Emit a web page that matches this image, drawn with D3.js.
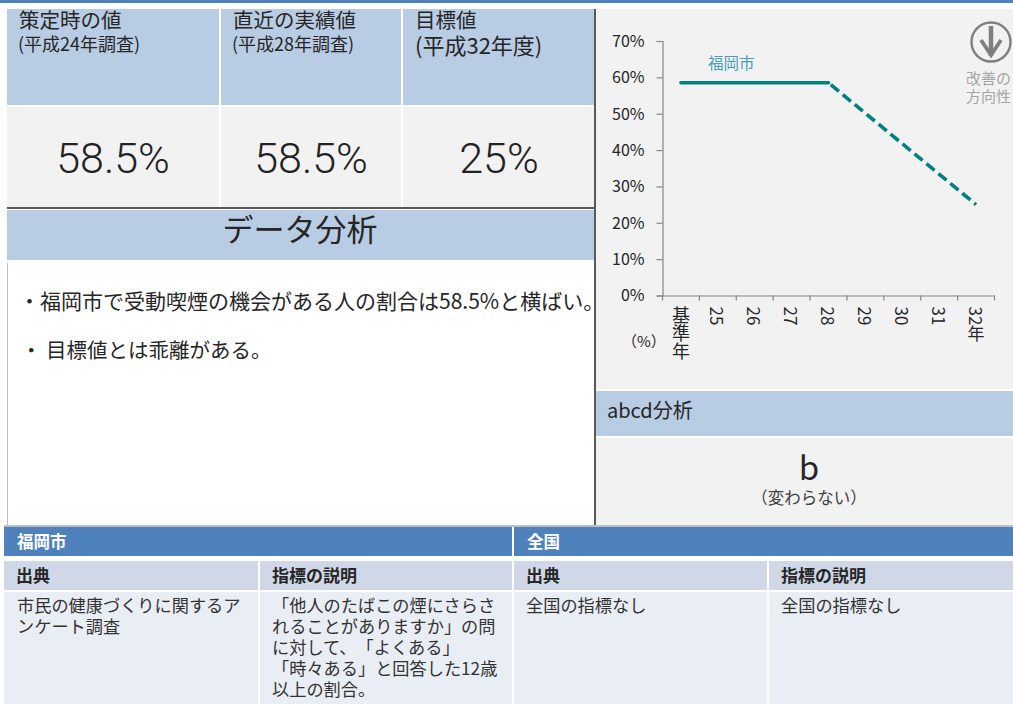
<!DOCTYPE html>
<html lang="ja">
<head>
<meta charset="utf-8">
<script src="https://cdn.jsdelivr.net/npm/d3@7"></script>
<style>
  html, body { margin: 0; padding: 0; background: #fff; overflow: hidden; }
  text { font-family: "Noto Sans CJK JP", "Noto Sans", sans-serif; fill: #262626; text-spacing-trim: space-all; }
</style>
</head>
<body>
<script>
// chart data
const years = ["基準年", "25", "26", "27", "28", "29", "30", "31", "32年"];
const actualYears = ["基準年", "28"];
const actualValues = [58.5, 58.5];
const targetYears = ["28", "32年"];
const targetValues = [58.5, 25];
const yTicks = [0, 10, 20, 30, 40, 50, 60, 70];

// table text
const headTitles = ["策定時の値", "直近の実績値", "目標値"];
const headSubs = ["(平成24年調査)", "(平成28年調査)", "(平成32年度)"];
const headValues = ["58.5%", "58.5%", "25%"];
const analysisLines = [
  "・福岡市で受動喫煙の機会がある人の割合は58.5%と横ばい。",
  "・ 目標値とは乖離がある。",
];
const regions = ["福岡市", "全国"];
const columnNames = ["出典", "指標の説明", "出典", "指標の説明"];
const columnBodies = [
  ["市民の健康づくりに関するア", "ンケート調査"],
  ["「他人のたばこの煙にさらさ", "れることがありますか」の問", "に対して、「よくある」", "「時々ある」と回答した12歳", "以上の割合。"],
  ["全国の指標なし"],
  ["全国の指標なし"],
];

const width = 1013;
const height = 704;
const blue = "#4f81bd";
const paleBlue = "#b8cce4";
const grey = "#f2f2f2";
const teal = "#008080";

const svg = d3.select("body").append("svg")
  .attr("width", width)
  .attr("height", height)
  .style("display", "block");

const rect = (x, y, w, h, fill) =>
  svg.append("rect").attr("x", x).attr("y", y).attr("width", w).attr("height", h).attr("fill", fill);

const label = (x, y, str, size, opts = {}) =>
  svg.append("text")
    .attr("x", x)
    .attr("y", y)
    .attr("font-size", size)
    .attr("text-anchor", opts.anchor || "start")
    .attr("font-weight", opts.weight || null)
    .style("fill", opts.fill || null)
    .style("font-family", opts.family || null)
    .text(str);

// top strip
rect(0, 0, width, 3, blue);

// value table, top left
const headCols = [[7, 212], [221, 180], [403, 191]];
headCols.forEach(([x, w], i) => {
  rect(x, 9, w, 96, paleBlue);
  rect(x, 107, w, 100, grey);
  label(x + 12, 28, headTitles[i], 20.5);
  label(x + 12 - (i === 2 ? 0 : 1), i === 2 ? 54 : 51, headSubs[i], i === 2 ? 22 : 18);
});
[113, 311, 499].forEach((cx, i) => {
  label(cx, 173, headValues[i], 43, { anchor: "middle", family: "Roboto", fill: "#222" })
    .attr("font-weight", 300);
});

// data analysis band and box
rect(7, 207, 588, 2, "#595959");
rect(7, 210, 588, 50, paleBlue);
label(300, 241, "データ分析", 31, { anchor: "middle" });
rect(7, 263, 1, 262, "#bfbfbf");
analysisLines.forEach((line, i) => {
  label(i === 0 ? 19 : 21, i === 0 ? 309 : 358, line, i === 0 ? 21 : 20.5);
});

// right column panels
rect(596, 9, 417, 380, grey);
rect(596, 391, 417, 45, paleBlue);
rect(596, 438, 417, 87, grey);
rect(594, 9, 2, 516, "#595959");
label(607, 418, "abcd分析", 20);
label(809, 480, "b", 33, { anchor: "middle" });
label(809, 504, "（変わらない）", 16.5, { anchor: "middle", fill: "#404040" });

// line chart
const margin = { left: 662.5, right: 18.5, top: 41, bottom: 408.5 };
const x = d3.scaleBand()
  .domain(years)
  .range([margin.left, width - margin.right]);
const y = d3.scaleLinear()
  .domain([0, 70])
  .range([height - margin.bottom, margin.top]);

const yAxis = svg.append("g")
  .attr("transform", `translate(${margin.left},0)`)
  .call(d3.axisLeft(y).tickValues(yTicks).tickSize(6).tickPadding(12).tickFormat((d) => `${d}%`));
yAxis.selectAll("text").attr("font-size", 16).attr("dy", "0.34em");

const xAxis = svg.append("g")
  .attr("transform", `translate(0,${height - margin.bottom})`)
  .call(d3.axisBottom(x).tickSize(0).tickPadding(0));
xAxis.selectAll("text")
  .attr("font-size", (d) => (d === "基準年" ? 18 : 17))
  .attr("dy", null)
  .attr("y", 11)
  .attr("text-anchor", "start")
  .style("writing-mode", "vertical-rl")
  .style("text-orientation", "mixed");

// ticks sit on the band edges
xAxis.selectAll("line.edge")
  .data(d3.range(years.length + 1))
  .enter()
  .append("line")
  .attr("class", "edge")
  .attr("x1", (d) => margin.left + d * x.step())
  .attr("x2", (d) => margin.left + d * x.step())
  .attr("y1", 0)
  .attr("y2", 5);

svg.selectAll(".domain, .tick line, line.edge").attr("stroke", "#868686").attr("stroke-width", 1.2);

const lineGen = d3.line()
  .x((d) => x(d.year) + x.bandwidth() / 2)
  .y((d) => y(d.value));

const toPoints = (ys, vs) => ys.map((year, i) => ({ year, value: vs[i] }));

svg.append("path")
  .datum(toPoints(actualYears, actualValues))
  .attr("d", lineGen)
  .attr("fill", "none")
  .attr("stroke", teal)
  .attr("stroke-width", 3.6)
  .attr("stroke-linecap", "round");

svg.append("path")
  .datum(toPoints(targetYears, targetValues))
  .attr("d", lineGen)
  .attr("fill", "none")
  .attr("stroke", teal)
  .attr("stroke-width", 3.6)
  .attr("stroke-dasharray", "10.5 5")
  .attr("stroke-dashoffset", -3);

label(708, 69, "福岡市", 15.5, { fill: "#4a9fb5" });
label(622, 347, "（%）", 15);

// improvement direction icon
const icon = svg.append("g")
  .attr("transform", "translate(991,42)")
  .attr("fill", "none")
  .attr("stroke", "#7f7f7f");
icon.append("circle").attr("r", 19.5).attr("stroke-width", 2.4);
icon.append("path").attr("d", "M0,-16V14").attr("stroke-width", 4.5);
icon.append("path").attr("d", "M-10,-2L0,13L10,-2").attr("stroke-width", 3.8);
label(966, 84, "改善の", 15, { fill: "#a6a6a6" });
label(966, 102, "方向性", 15, { fill: "#a6a6a6" });

// source table, bottom
rect(4, 525, 1009, 2, "#bfbfbf");
const regionCols = [[4, 508], [514, 499]];
regionCols.forEach(([rx, w], i) => {
  rect(rx, 527, w, 29, blue);
  label(rx + 13, 548, regions[i], 16.5, { weight: 700, fill: "#fff" });
});
const tableCols = [[4, 254], [260, 252], [514, 253], [769, 244]];
tableCols.forEach(([cx, w], i) => {
  rect(cx, 561, w, 29, "#d0d8e8");
  rect(cx, 592, w, 112, "#e9edf4");
  label(cx + 12, 582, columnNames[i], 17, { weight: 700 });
  // one text element per cell, lines as tspans
  const lineX = cx + (i === 0 ? 13 : 12);
  label(lineX, 612, null, 17.2, { fill: "#333" })
    .selectAll("tspan")
    .data(columnBodies[i])
    .enter()
    .append("tspan")
    .attr("x", lineX)
    .attr("y", (d, j) => 612 + j * 21)
    .text((d) => d);
});
</script>
</body>
</html>
